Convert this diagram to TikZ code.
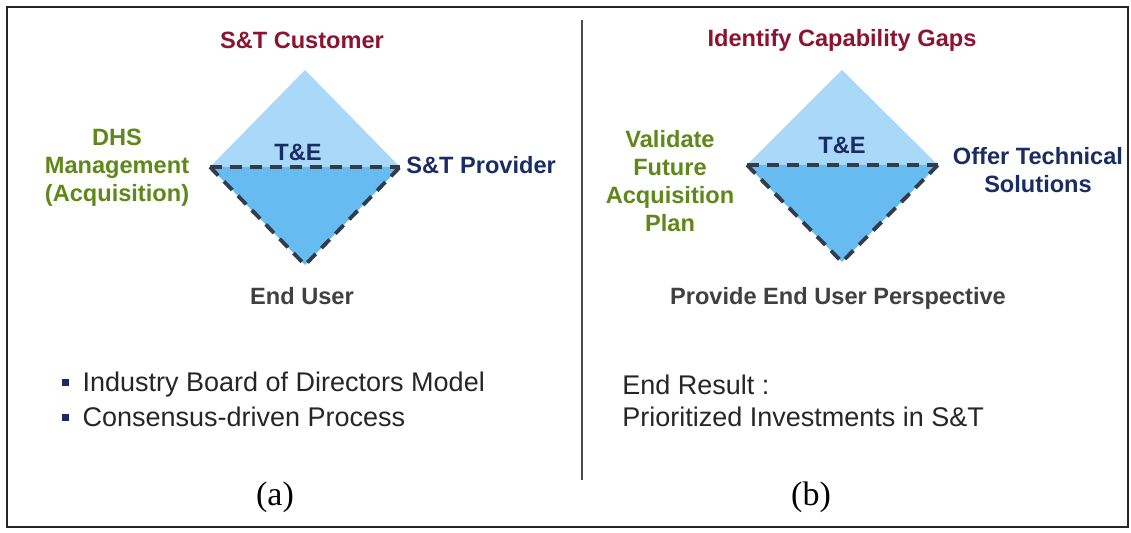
\documentclass[tikz,border=0pt]{standalone}
\usepackage{fontspec}
\setmainfont{Liberation Sans}
\newfontfamily\capfont{Liberation Serif}

\definecolor{headred}{RGB}{140,20,50}
\definecolor{mgmtgreen}{RGB}{95,135,25}
\definecolor{provnavy}{RGB}{25,45,100}
\definecolor{usergray}{RGB}{64,64,64}
\definecolor{upperblue}{RGB}{170,216,248}
\definecolor{lowerblue}{RGB}{102,187,240}
\definecolor{dashgray}{RGB}{50,60,75}

\begin{document}
\begin{tikzpicture}[
  x=0.5pt, y=-0.5pt,
  lbl/.style={font=\bfseries\fontsize{11.8}{14}\selectfont, align=center, inner sep=0pt},
  body/.style={font=\fontsize{13.5}{16}\selectfont, text=black!85, inner sep=0pt},
  upper/.style={fill=upperblue},
  lower/.style={fill=lowerblue},
  rim/.style={dashgray, line width=1.9pt, dash pattern=on 6pt off 4pt}
]
\useasboundingbox (0,0) rectangle (1131,533);
\fill [white] (0,0) rectangle (1131,533);
\draw [line width=1pt, black!85] (7,7) rectangle (1128,527);
\draw [line width=1pt, black!70] (582,20) -- (582,480);

% diamond (a)
\coordinate (aT) at (305,70);
\coordinate (aL) at (210,167);
\coordinate (aR) at (400,167);
\coordinate (aB) at (305,265);
\path [upper] (aL) -- (aT) -- (aR) -- cycle;
\path [lower] (aL) -- (aR) -- (aB) -- cycle;
\draw [rim] (aL) -- (aR);
\draw [rim] (aL) -- (aB) -- (aR);

% diamond (b)
\coordinate (bT) at (842,70);
\coordinate (bL) at (747,165);
\coordinate (bR) at (938,165);
\coordinate (bB) at (842,262);
\path [upper] (bL) -- (bT) -- (bR) -- cycle;
\path [lower] (bL) -- (bR) -- (bB) -- cycle;
\draw [rim] (bL) -- (bR);
\draw [rim] (bL) -- (bB) -- (bR);

\node [lbl, text=provnavy] (ate) at (298,152) {T\&E};
\node [lbl, text=provnavy] (bte) at (842,145) {T\&E};

\node [lbl, text=headred] (acust) at (302,40) {S\&T Customer};
\node [lbl, text=mgmtgreen] (amgmt) at (117,168) {DHS\\Management\\(Acquisition)};
\node [lbl, text=provnavy, anchor=west] (aprov) at (406,165) {S\&T Provider};
\node [lbl, text=usergray] (auser) at (302,296) {End User};

\node [lbl, text=headred] (bgaps) at (842,40) {Identify Capability Gaps};
\node [lbl, text=mgmtgreen] (bplan) at (670,181) {Validate\\Future\\Acquisition\\Plan};
\node [lbl, text=provnavy] (boffer) at (1038,170) {Offer Technical\\Solutions};
\node [lbl, text=usergray] (bpersp) at (838,298) {Provide End User Perspective};

\node [body, anchor=west] (aboard) at (62,385)
  {{\color{provnavy}\rule[0.22em]{0.25em}{0.25em}}\hspace{0.5em}Industry Board of Directors Model};
\node [body, anchor=west] (aproc) at (62,417)
  {{\color{provnavy}\rule[0.22em]{0.25em}{0.25em}}\hspace{0.5em}Consensus-driven Process};
\node [body, anchor=west] (bres) at (622,385) {End Result :};
\node [body, anchor=west] (binv) at (622,417) {Prioritized Investments in S\&T};

\node [font=\capfont\fontsize{17}{20}\selectfont] (acap) at (275,497) {(a)};
\node [font=\capfont\fontsize{17}{20}\selectfont] (bcap) at (811,497) {(b)};
\end{tikzpicture}
\end{document}
